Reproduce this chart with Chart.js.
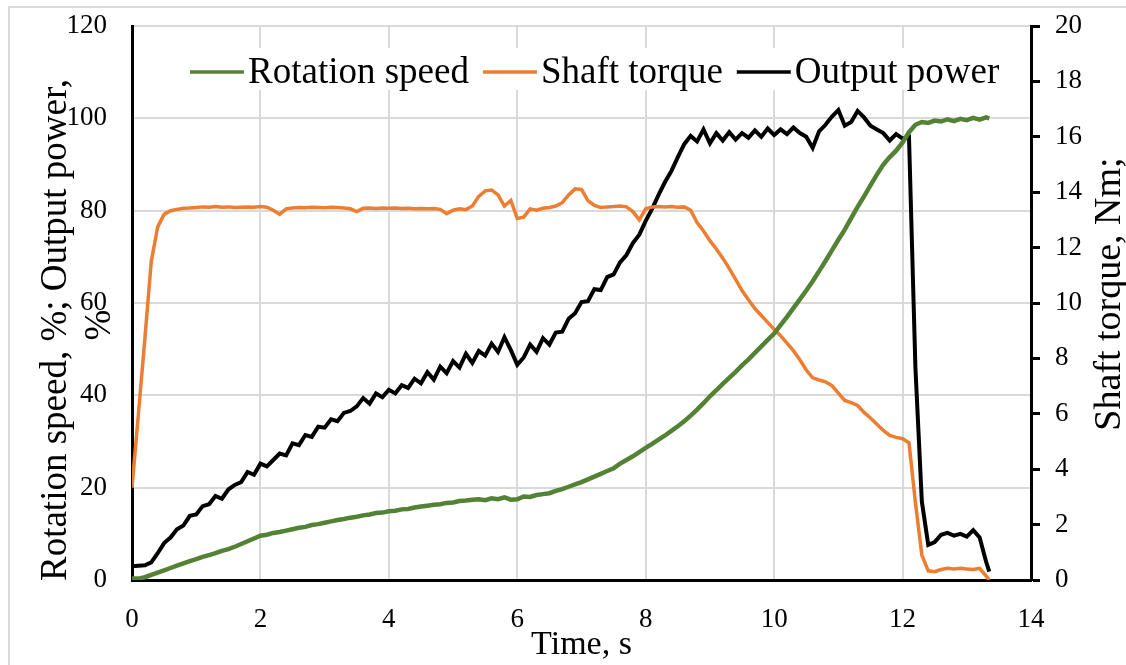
<!DOCTYPE html>
<html lang="en">

<head>
  <meta charset="UTF-8">
  <title>Rotation speed, shaft torque and output power</title>
  <script src="https://cdn.jsdelivr.net/npm/chart.js@4.4.1/dist/chart.umd.min.js"></script>
  <style>
    body { margin: 0; background: #fff; overflow: hidden; }
    #frame { position: absolute; left: 8px; top: 6px; width: 1200px; height: 700px;
             border-left: 2px solid #d9d9d9; border-top: 2px solid #d9d9d9; }
    #chart { position: absolute; left: 0; top: 0; }
  </style>
</head>

<body>
  <div id="frame"></div>
  <canvas id="chart" width="1126" height="665"></canvas>

  <script>
    // time, s
    const timeS = [
      0, 0.1, 0.2, 0.3, 0.4, 0.5, 0.6, 0.7, 0.8, 0.9,
      1, 1.1, 1.2, 1.3, 1.4, 1.5, 1.6, 1.7, 1.8, 1.9,
      2, 2.1, 2.2, 2.3, 2.4, 2.5, 2.6, 2.7, 2.8, 2.9,
      3, 3.1, 3.2, 3.3, 3.4, 3.5, 3.6, 3.7, 3.8, 3.9,
      4, 4.1, 4.2, 4.3, 4.4, 4.5, 4.6, 4.7, 4.8, 4.9,
      5, 5.1, 5.2, 5.3, 5.4, 5.5, 5.6, 5.7, 5.8, 5.9,
      6, 6.1, 6.2, 6.3, 6.4, 6.5, 6.6, 6.7, 6.8, 6.9,
      7, 7.1, 7.2, 7.3, 7.4, 7.5, 7.6, 7.7, 7.8, 7.9,
      8, 8.1, 8.2, 8.3, 8.4, 8.5, 8.6, 8.7, 8.8, 8.9,
      9, 9.1, 9.2, 9.3, 9.4, 9.5, 9.6, 9.7, 9.8, 9.9,
      10, 10.1, 10.2, 10.3, 10.4, 10.5, 10.6, 10.7, 10.8, 10.9,
      11, 11.1, 11.2, 11.3, 11.4, 11.5, 11.6, 11.7, 11.8, 11.9,
      12, 12.1, 12.2, 12.3, 12.4, 12.5, 12.6, 12.7, 12.8, 12.9,
      13, 13.1, 13.2, 13.3, 13.35
    ];

    // rotation speed, %
    const rotationSpeed = [
      0.3, 0.3, 0.6, 1.1, 1.6, 2.1, 2.6, 3.1, 3.6, 4.1,
      4.5, 5.0, 5.4, 5.8, 6.3, 6.7, 7.2, 7.8, 8.4, 9.0,
      9.6, 9.8, 10.2, 10.4, 10.7, 11.0, 11.3, 11.5, 11.9, 12.1,
      12.4, 12.7, 13.0, 13.2, 13.5, 13.7, 14.0, 14.2, 14.5, 14.6,
      14.9, 15.0, 15.3, 15.4, 15.7, 15.9, 16.1, 16.3, 16.4, 16.7,
      16.8, 17.1, 17.2, 17.4, 17.5, 17.3, 17.7, 17.5, 17.9, 17.4,
      17.5, 18.1, 18.0, 18.4, 18.6, 18.8, 19.3, 19.7, 20.2, 20.7,
      21.2, 21.8, 22.4, 23.0, 23.6, 24.2, 25.2, 26.0, 26.8, 27.7,
      28.6, 29.5, 30.4, 31.3, 32.3, 33.3, 34.4, 35.6, 36.9, 38.3,
      39.8, 41.1, 42.5, 43.8, 45.1, 46.5, 47.8, 49.2, 50.6, 52.0,
      53.4, 55.2, 57.0, 58.9, 60.8, 62.7, 64.7, 66.9, 69.1, 71.4,
      73.7, 75.9, 78.4, 80.8, 83.1, 85.5, 87.8, 90.0, 91.6, 93.0,
      94.8, 97.0, 98.6, 99.2, 99.0, 99.5, 99.3, 99.8, 99.4, 99.9,
      99.6, 100.1, 99.7, 100.2, 100.0
    ];

    // shaft torque, Nm (right axis)
    const shaftTorque = [
      3.33, 6.0, 8.7, 11.5, 12.75, 13.2, 13.33, 13.38, 13.42, 13.43,
      13.45, 13.47, 13.46, 13.48, 13.46, 13.47, 13.45, 13.46, 13.47, 13.46,
      13.48, 13.46, 13.35, 13.2, 13.40, 13.43, 13.45, 13.44, 13.46, 13.45,
      13.44, 13.46, 13.45, 13.43, 13.40, 13.30, 13.42, 13.43, 13.41, 13.43,
      13.42, 13.43, 13.41, 13.42, 13.40, 13.41, 13.40, 13.41, 13.38, 13.22,
      13.35, 13.40, 13.37, 13.50, 13.85, 14.05, 14.08, 13.90, 13.50, 13.70,
      13.05, 13.10, 13.40, 13.35, 13.42, 13.45, 13.50, 13.62, 13.90, 14.12,
      14.10, 13.70, 13.52, 13.45, 13.47, 13.48, 13.50, 13.47, 13.30, 13.00,
      13.40, 13.47, 13.48, 13.47, 13.48, 13.46, 13.47, 13.35, 12.90, 12.60,
      12.25, 11.95, 11.62, 11.25, 10.85, 10.45, 10.12, 9.80, 9.55, 9.30,
      9.05, 8.82, 8.55, 8.28, 7.95, 7.58, 7.30, 7.22, 7.15, 7.02,
      6.75, 6.48, 6.40, 6.30, 6.05, 5.85, 5.62, 5.40, 5.22, 5.15,
      5.10, 4.95, 2.8, 0.9, 0.33, 0.30, 0.38, 0.42, 0.40, 0.42,
      0.40, 0.38, 0.42, 0.15, 0
    ];

    // output power, %
    const outputPower = [
      3.0, 3.1, 3.2, 3.8, 5.8, 8.0, 9.2, 11.0, 11.8, 13.9,
      14.2, 16.0, 16.4, 18.2, 17.6, 19.6, 20.6, 21.2, 23.4, 22.8,
      25.2, 24.6, 26.0, 27.4, 27.0, 29.6, 29.2, 31.4, 31.0, 33.2,
      33.0, 34.8, 34.4, 36.2, 36.6, 37.6, 39.4, 38.2, 40.4, 39.6,
      41.2, 40.4, 42.2, 41.6, 43.6, 42.6, 45.0, 43.4, 46.2, 44.8,
      47.4, 46.0, 49.0, 47.0, 49.6, 48.6, 51.2, 49.4, 52.6, 49.8,
      46.6, 48.2, 51.0, 49.4, 52.4, 51.0, 53.6, 53.8, 56.6, 57.8,
      60.2, 60.4, 63.0, 62.8, 65.6, 66.2, 68.8, 70.4, 73.0, 74.8,
      77.8, 80.4, 83.4, 86.2, 88.6, 91.6, 94.4, 96.2, 95.0, 97.6,
      94.6, 96.8, 95.2, 97.0, 95.4, 96.8, 95.8, 97.4, 96.0, 97.8,
      96.4, 97.6, 96.6, 98.0, 96.8, 96.0, 93.6, 97.2, 98.6, 100.4,
      101.8, 98.4, 99.2, 101.6, 100.2, 98.4, 97.6, 96.8, 95.2, 96.6,
      95.6, 96.0, 46.0, 17.0, 7.6, 8.2, 9.8, 10.2, 9.6, 10.0,
      9.4, 10.8, 9.2, 4.0, 1.8
    ];

    const seriesNames = ['Rotation speed', 'Shaft torque', 'Output power'];
    const seriesColors = ['#548235', '#ED7D31', '#000000'];
    const leftTitle = ['Rotation speed, %; Output power,', '%'];
    const rightTitle = 'Shaft torque, Nm;';
    const xTitle = 'Time, s';

    const serif = "'Liberation Serif', 'Times New Roman', serif";

    function points(values) {
      return values.map((v, i) => ({ x: timeS[i], y: v }));
    }

    // legend inside the plot area + rotated axis titles
    const overlay = {
      id: 'overlay',
      afterDraw(chart) {
        const ctx = chart.ctx;
        ctx.save();
        ctx.font = '37px ' + serif;
        const widths = seriesNames.map(n => ctx.measureText(n).width);
        let x = 190;
        const y = 72;
        const total = widths.reduce((a, b) => a + b, 0) + 3 * 58 + 2 * 14;
        ctx.fillStyle = '#fff';
        ctx.fillRect(x - 4, 48, total + 8, 42);
        ctx.textBaseline = 'middle';
        seriesNames.forEach((name, i) => {
          ctx.strokeStyle = seriesColors[i];
          ctx.lineWidth = 3.5;
          ctx.beginPath();
          ctx.moveTo(x, y);
          ctx.lineTo(x + 54, y);
          ctx.stroke();
          ctx.fillStyle = '#000';
          ctx.fillText(name, x + 58, y + 1);
          x += 58 + widths[i] + 14;
        });

        ctx.fillStyle = '#000';
        ctx.textAlign = 'center';
        ctx.textBaseline = 'alphabetic';
        ctx.font = '37px ' + serif;
        ctx.save();
        ctx.translate(66, 330);
        ctx.rotate(-Math.PI / 2);
        ctx.fillText(leftTitle[0], 0, 0);
        ctx.restore();
        ctx.save();
        ctx.translate(110, 325);
        ctx.rotate(-Math.PI / 2);
        ctx.fillText(leftTitle[1], 0, 0);
        ctx.restore();
        ctx.font = '38px ' + serif;
        ctx.save();
        ctx.translate(1120, 294);
        ctx.rotate(-Math.PI / 2);
        ctx.fillText(rightTitle, 0, 0);
        ctx.restore();
        ctx.restore();
      }
    };

    const tickFont = { family: serif, size: 27 };

    function fixVertical(width) {
      return function (s) {
        s.width = width;
        s.paddingTop = 0;
        s.paddingBottom = 0;
      };
    }

    new Chart(document.getElementById('chart').getContext('2d'), {
      type: 'line',
      data: {
        datasets: [
          { label: seriesNames[0], data: points(rotationSpeed), yAxisID: 'y',
            borderColor: seriesColors[0], borderWidth: 4.5 },
          { label: seriesNames[1], data: points(shaftTorque), yAxisID: 'y1',
            borderColor: seriesColors[1], borderWidth: 3.5 },
          { label: seriesNames[2], data: points(outputPower), yAxisID: 'y',
            borderColor: seriesColors[2], borderWidth: 4 }
        ]
      },
      options: {
        responsive: false,
        animation: false,
        elements: { point: { radius: 0 }, line: { tension: 0 } },
        layout: { padding: { top: 26, left: 0, right: 0, bottom: 0 } },
        plugins: { legend: { display: false }, tooltip: { enabled: false } },
        scales: {
          x: {
            type: 'linear', min: 0, max: 14,
            ticks: { stepSize: 2, padding: 24, color: '#000', font: tickFont },
            grid: { color: '#d9d9d9', lineWidth: 2, drawTicks: false },
            border: { color: '#000', width: 3 },
            title: { display: true, text: xTitle, color: '#000',
                     font: { family: serif, size: 34 }, padding: 0 },
            afterFit(s) { s.height = 85; s.paddingLeft = 0; s.paddingRight = 0; }
          },
          y: {
            position: 'left', min: 0, max: 120,
            ticks: { stepSize: 20, padding: 25, color: '#000', font: tickFont },
            grid: { color: '#d9d9d9', lineWidth: 2, drawTicks: false },
            border: { color: '#000', width: 3 },
            afterFit: fixVertical(132)
          },
          y1: {
            position: 'right', min: 0, max: 20,
            ticks: { stepSize: 2, padding: 15, color: '#000', font: tickFont },
            grid: { drawOnChartArea: false, drawTicks: true, tickLength: 9,
                    tickColor: '#000', tickWidth: 3 },
            border: { color: '#000', width: 3 },
            afterFit: fixVertical(95)
          }
        }
      },
      plugins: [overlay]
    });
  </script>
</body>

</html>
